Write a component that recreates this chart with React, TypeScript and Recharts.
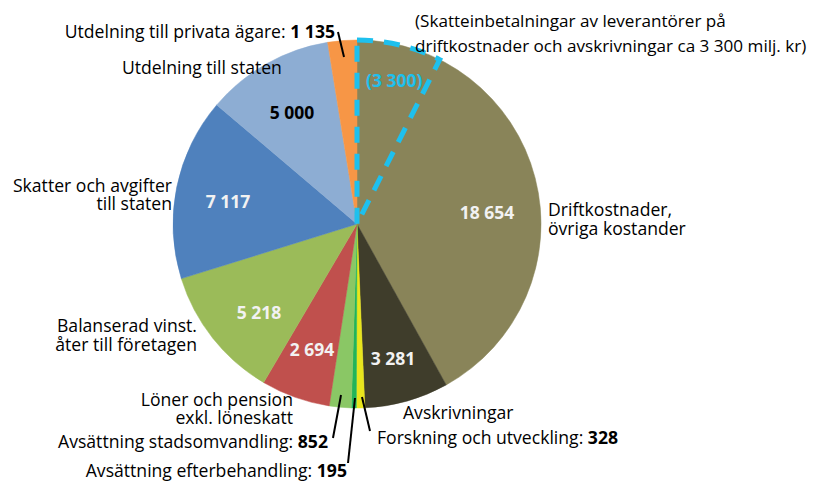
import { PieChart, Pie, Cell } from 'recharts';

const categories = [
  'Driftkostnader, övriga kostander',
  'Avskrivningar',
  'Forskning och utveckling',
  'Avsättning efterbehandling',
  'Avsättning stadsomvandling',
  'Löner och pension exkl. löneskatt',
  'Balanserad vinst. åter till företagen',
  'Skatter och avgifter till staten',
  'Utdelning till staten',
  'Utdelning till privata ägare',
];
const values = [18654, 3281, 328, 195, 852, 2694, 5218, 7117, 5000, 1135];
const colors = [
  '#898459', '#3F3D2B', '#E8E51D', '#22B45A', '#8AC765',
  '#C0504D', '#9BBB59', '#4F81BD', '#8DADD3', '#F79646',
];

// supplier tax share drawn as dashed sector inside driftkostnader
const supplierTax = 3300;
const total = values.reduce((a, b) => a + b, 0);

const data = categories.map((name, i) => ({ name, value: values[i] }));
const overlay = [
  { name: 'Skatteinbetalningar', value: supplierTax },
  { name: 'rest', value: total - supplierTax },
];

const fmt = (n: number) => String(n).replace(/\B(?=(\d{3})+(?!\d))/g, ' ');

const FONT = '"Open Sans", Lato, sans-serif';
const FS = 17.6;
const NFS = 17.5;
const LH = 18.5;

type Layout = {
  value?: { x: number; y: number; fill: string };
  lines?: string[];
  lx?: number;
  ly?: number;
  anchor?: 'start' | 'end' | 'middle';
  inline?: boolean; // name: bold value on one line
  leader?: [number, number, number, number];
};

const layout: Layout[] = [
  { value: { x: 487, y: 212, fill: '#F2F2F2' }, lines: ['Driftkostnader,', 'övriga kostander'], lx: 548, ly: 209, anchor: 'start' },
  { value: { x: 393, y: 358, fill: '#F2F2F2' }, lines: ['Avskrivningar'], lx: 403, ly: 412, anchor: 'start' },
  { inline: true, lx: 377, ly: 437, anchor: 'start', leader: [362, 397, 370, 431] },
  { inline: true, lx: 347, ly: 470, anchor: 'end', leader: [355, 398, 348, 463] },
  { inline: true, lx: 328, ly: 441, anchor: 'end', leader: [341, 395, 333, 438] },
  { value: { x: 312, y: 349, fill: '#F2F2F2' }, lines: ['Löner och pension', 'exkl. löneskatt'], lx: 293, ly: 398.5, anchor: 'end' },
  { value: { x: 259, y: 312, fill: '#F2F2F2' }, lines: ['Balanserad vinst.', 'åter till företagen'], lx: 197, ly: 325, anchor: 'end' },
  { value: { x: 228, y: 201, fill: '#F2F2F2' }, lines: ['Skatter och avgifter', 'till staten'], lx: 172, ly: 184.5, anchor: 'end' },
  { value: { x: 292, y: 112, fill: '#000000' }, lines: ['Utdelning till staten'], lx: 122, ly: 67, anchor: 'start' },
  { inline: true, lx: 335, ly: 31, anchor: 'end', leader: [338, 32, 344, 57] },
];

const renderLabel = (props: any) => {
  const i = props.index as number;
  const l = layout[i];
  if (!l) return null;
  const v = values[i];
  return (
    <g key={'lbl' + i} fontFamily={FONT} fontSize={FS}>
      {l.leader && (
        <line x1={l.leader[0]} y1={l.leader[1]} x2={l.leader[2]} y2={l.leader[3]} stroke="#000" strokeWidth={2} />
      )}
      {l.value && (
        <text x={l.value.x} y={l.value.y} textAnchor="middle" dominantBaseline="central" fill={l.value.fill} fontWeight="bold" fontSize={NFS}>
          {fmt(v)}
        </text>
      )}
      {l.inline && (
        <text x={l.lx} y={l.ly} textAnchor={l.anchor} dominantBaseline="central" fill="#000">
          <tspan>{categories[i]}: </tspan>
          <tspan fontWeight="bold">{fmt(v)}</tspan>
        </text>
      )}
      {l.lines &&
        l.lines.map((s, k) => (
          <text key={k} x={l.lx} y={(l.ly as number) + k * LH} textAnchor={l.anchor} dominantBaseline="central" fill="#000">
            {s}
          </text>
        ))}
    </g>
  );
};

const renderOverlayLabel = (props: any) => {
  if (props.index !== 0) return null;
  return (
    <g key="ovl" fontFamily={FONT}>
      <text x={366} y={80} dominantBaseline="central" fill="#1EC0EE" fontWeight="bold" fontSize={NFS}>
        ({fmt(supplierTax)})
      </text>
      <text x={415} y={20} dominantBaseline="central" fill="#000" fontSize={17.1}>
        (Skatteinbetalningar av leverantörer på
      </text>
      <text x={415} y={45} dominantBaseline="central" fill="#000" fontSize={17.1}>
        driftkostnader och avskrivningar ca 3 300 milj. kr)
      </text>
    </g>
  );
};

export default function App() {
  return (
    <div style={{ position: 'absolute', left: 0, top: 0, width: 814, height: 481, background: '#fff' }}>
      <PieChart width={814} height={481} margin={{ top: 0, right: 0, bottom: 0, left: 0 }}>
        <Pie
          data={data}
          dataKey="value"
          cx={357}
          cy={224}
          outerRadius={184}
          startAngle={90}
          endAngle={-270}
          isAnimationActive={false}
          label={renderLabel}
          labelLine={false}
        >
          {data.map((d, i) => (
            <Cell key={d.name} fill={colors[i]} stroke={colors[i]} strokeWidth={0.5} />
          ))}
        </Pie>
        <Pie
          data={overlay}
          dataKey="value"
          cx={357}
          cy={224}
          outerRadius={184}
          startAngle={90}
          endAngle={-270}
          isAnimationActive={false}
          label={renderOverlayLabel}
          labelLine={false}
        >
          <Cell fill="none" stroke="#1EC0EE" strokeWidth={5} strokeDasharray="16 11" />
          <Cell fill="none" stroke="none" />
        </Pie>
      </PieChart>
    </div>
  );
}
